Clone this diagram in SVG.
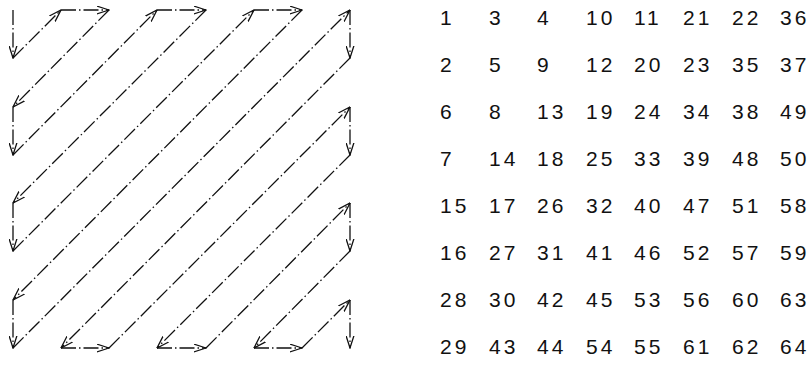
<svg xmlns="http://www.w3.org/2000/svg" width="810" height="367" viewBox="0 0 810 367">
<style>
.c{fill:none;stroke:#111;stroke-width:1.3;stroke-dasharray:15 3 1.5 3;marker-end:url(#ah)}
.n{font-family:"Liberation Sans",Arial,sans-serif;font-size:21px;fill:#111;letter-spacing:3px}
</style>
<defs>
<marker id="ah" markerUnits="userSpaceOnUse" viewBox="0 0 13 9" refX="12.5" refY="4.5" markerWidth="13" markerHeight="9" orient="auto">
<path d="M0,0.5 L12.5,4.5 L0,8.5" fill="none" stroke="#111" stroke-width="1.3" stroke-dasharray="none"/>
</marker>
</defs>
<rect width="810" height="367" fill="#fff"/>
<g id="connectors">
<line class="c" x1="13" y1="10" x2="13" y2="58"/>
<line class="c" x1="13" y1="58" x2="61" y2="10"/>
<line class="c" x1="61" y1="10" x2="109" y2="10"/>
<line class="c" x1="109" y1="10" x2="13" y2="107"/>
<line class="c" x1="13" y1="107" x2="13" y2="155"/>
<line class="c" x1="13" y1="155" x2="157" y2="10"/>
<line class="c" x1="157" y1="10" x2="206" y2="10"/>
<line class="c" x1="206" y1="10" x2="13" y2="203"/>
<line class="c" x1="13" y1="203" x2="13" y2="251"/>
<line class="c" x1="13" y1="251" x2="254" y2="10"/>
<line class="c" x1="254" y1="10" x2="302" y2="10"/>
<line class="c" x1="302" y1="10" x2="13" y2="300"/>
<line class="c" x1="13" y1="300" x2="13" y2="348"/>
<line class="c" x1="13" y1="348" x2="350" y2="10"/>
<line class="c" x1="350" y1="10" x2="350" y2="58"/>
<line class="c" x1="350" y1="58" x2="61" y2="348"/>
<line class="c" x1="61" y1="348" x2="109" y2="348"/>
<line class="c" x1="109" y1="348" x2="350" y2="107"/>
<line class="c" x1="350" y1="107" x2="350" y2="155"/>
<line class="c" x1="350" y1="155" x2="157" y2="348"/>
<line class="c" x1="157" y1="348" x2="206" y2="348"/>
<line class="c" x1="206" y1="348" x2="350" y2="203"/>
<line class="c" x1="350" y1="203" x2="350" y2="251"/>
<line class="c" x1="350" y1="251" x2="254" y2="348"/>
<line class="c" x1="254" y1="348" x2="302" y2="348"/>
<line class="c" x1="302" y1="348" x2="350" y2="300"/>
<line class="c" x1="350" y1="300" x2="350" y2="348"/>
</g>
<g id="numbers" class="n">
<g id="row0"><text x="440" y="25">1</text><text x="489" y="25">3</text><text x="537" y="25">4</text><text x="586" y="25">10</text><text x="634" y="25">11</text><text x="683" y="25">21</text><text x="732" y="25">22</text><text x="780" y="25">36</text></g>
<g id="row1"><text x="440" y="72">2</text><text x="489" y="72">5</text><text x="537" y="72">9</text><text x="586" y="72">12</text><text x="634" y="72">20</text><text x="683" y="72">23</text><text x="732" y="72">35</text><text x="780" y="72">37</text></g>
<g id="row2"><text x="440" y="119">6</text><text x="489" y="119">8</text><text x="537" y="119">13</text><text x="586" y="119">19</text><text x="634" y="119">24</text><text x="683" y="119">34</text><text x="732" y="119">38</text><text x="780" y="119">49</text></g>
<g id="row3"><text x="440" y="166">7</text><text x="489" y="166">14</text><text x="537" y="166">18</text><text x="586" y="166">25</text><text x="634" y="166">33</text><text x="683" y="166">39</text><text x="732" y="166">48</text><text x="780" y="166">50</text></g>
<g id="row4"><text x="440" y="213">15</text><text x="489" y="213">17</text><text x="537" y="213">26</text><text x="586" y="213">32</text><text x="634" y="213">40</text><text x="683" y="213">47</text><text x="732" y="213">51</text><text x="780" y="213">58</text></g>
<g id="row5"><text x="440" y="260">16</text><text x="489" y="260">27</text><text x="537" y="260">31</text><text x="586" y="260">41</text><text x="634" y="260">46</text><text x="683" y="260">52</text><text x="732" y="260">57</text><text x="780" y="260">59</text></g>
<g id="row6"><text x="440" y="307">28</text><text x="489" y="307">30</text><text x="537" y="307">42</text><text x="586" y="307">45</text><text x="634" y="307">53</text><text x="683" y="307">56</text><text x="732" y="307">60</text><text x="780" y="307">63</text></g>
<g id="row7"><text x="440" y="354">29</text><text x="489" y="354">43</text><text x="537" y="354">44</text><text x="586" y="354">54</text><text x="634" y="354">55</text><text x="683" y="354">61</text><text x="732" y="354">62</text><text x="780" y="354">64</text></g>
</g>
</svg>
